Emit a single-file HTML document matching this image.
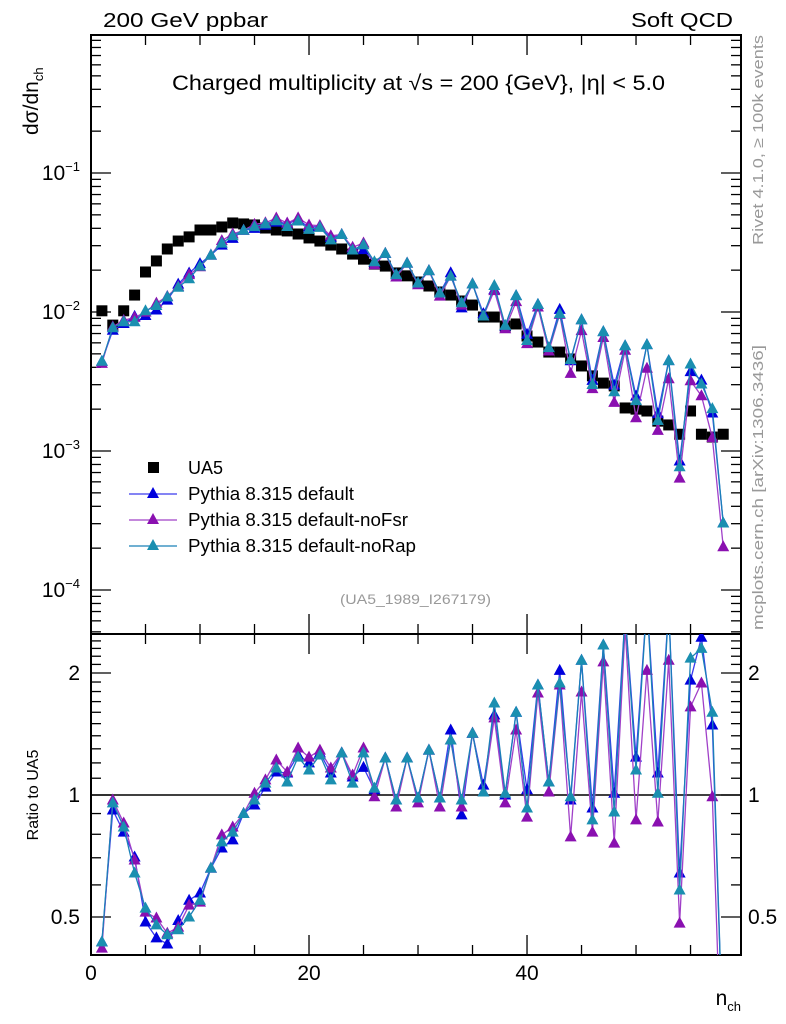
<!DOCTYPE html>
<html><head><meta charset="utf-8">
<style>
html,body{margin:0;padding:0;background:#fff;overflow:hidden;width:786px;height:1024px;}
svg{display:block;font-family:"Liberation Sans",sans-serif;}
</style></head>
<body>
<svg id="chart" width="786" height="1024" viewBox="0 0 786 1024" xmlns="http://www.w3.org/2000/svg">
<defs>
<clipPath id="clipMain"><rect x="91" y="35" width="650" height="599"/></clipPath>
<clipPath id="clipRatio"><rect x="91" y="634" width="650" height="321"/></clipPath>
</defs>
<g id="axes"></g>
<g id="series"></g>
<text x="103" y="27" font-size="20" textLength="165" lengthAdjust="spacingAndGlyphs">200 GeV ppbar</text>
<text x="631" y="27" font-size="20" textLength="102" lengthAdjust="spacingAndGlyphs">Soft QCD</text>
<text x="172" y="90" font-size="21" textLength="493" lengthAdjust="spacingAndGlyphs">Charged multiplicity at √s = 200 {GeV}, |η| &lt; 5.0</text>
<text transform="translate(38,135) rotate(-90)" font-size="21">dσ/dn<tspan font-size="13" dy="5">ch</tspan></text>
<text transform="translate(38,795) rotate(-90)" font-size="16" text-anchor="middle">Ratio to UA5</text>
<text x="741" y="1005" font-size="21" text-anchor="end">n<tspan font-size="13" dy="6">ch</tspan></text>
<text transform="translate(763,245) rotate(-90)" font-size="15" fill="#999" textLength="210" lengthAdjust="spacingAndGlyphs">Rivet 4.1.0, ≥ 100k events</text>
<text transform="translate(763,630) rotate(-90)" font-size="15" fill="#999" textLength="285" lengthAdjust="spacingAndGlyphs">mcplots.cern.ch [arXiv:1306.3436]</text>
<text x="340" y="604" font-size="14" fill="#999" textLength="151" lengthAdjust="spacingAndGlyphs">(UA5_1989_I267179)</text>
<g id="legend">
<rect x="148" y="462" width="11" height="11" fill="#000"/>
<text x="188" y="474" font-size="18">UA5</text>
<line x1="129" y1="494" x2="177" y2="494" stroke="#3a3aee" stroke-width="1.3"/>
<polygon points="153,487 147,498 159,498" fill="#0000dd"/>
<text x="188" y="500" font-size="18" textLength="166" lengthAdjust="spacingAndGlyphs">Pythia 8.315 default</text>
<line x1="129" y1="520" x2="177" y2="520" stroke="#a040c8" stroke-width="1.3"/>
<polygon points="153,513 147,524 159,524" fill="#8a10b0"/>
<text x="188" y="526" font-size="18" textLength="220" lengthAdjust="spacingAndGlyphs">Pythia 8.315 default-noFsr</text>
<line x1="129" y1="546" x2="177" y2="546" stroke="#1a80b8" stroke-width="1.3"/>
<polygon points="153,539 147,550 159,550" fill="#1a8fb0"/>
<text x="188" y="552" font-size="18" textLength="228" lengthAdjust="spacingAndGlyphs">Pythia 8.315 default-noRap</text>
</g>
</svg>
<script>
const nch = [1,2,3,4,5,6,7,8,9,10,11,12,13,14,15,16,17,18,19,20,21,22,23,24,25,26,27,28,29,30,31,32,33,34,35,36,37,38,39,40,41,42,43,44,45,46,47,48,49,50,51,52,53,54,55,56,57,58];
const ua5 = [0.0102,0.00805,0.0102,0.01324,0.0194,0.0233,0.0284,0.0324,0.0347,0.0389,0.0389,0.0409,0.0437,0.043,0.0423,0.0402,0.0389,0.0383,0.0364,0.0341,0.0324,0.0303,0.0284,0.0261,0.024,0.0221,0.0214,0.0191,0.0182,0.01644,0.01538,0.01393,0.01324,0.012,0.01122,0.0092,0.0092,0.00793,0.0082,0.00672,0.00608,0.00515,0.00515,0.00459,0.00409,0.00347,0.00308,0.00294,0.00204,0.002,0.00194,0.00164,0.00154,0.00132,0.00194,0.00132,0.00126,0.00132];
const ratioDefault = [0.434,0.918,0.81,0.703,0.486,0.444,0.429,0.49,0.55,0.573,0.66,0.74,0.775,0.9,0.945,1.046,1.14,1.133,1.255,1.2,1.27,1.133,1.27,1.108,1.17,1.03,1.234,0.972,1.234,0.983,1.29,0.983,1.447,0.893,1.42,1.058,1.575,1.0,1.6,1.03,1.868,1.077,2.03,0.972,2.15,0.929,2.345,1.01,2.8,1.24,3.0,1.133,2.9,0.642,1.92,2.45,1.488,0.23];
const ratioNoFsr = [0.419,0.972,0.853,0.691,0.514,0.497,0.456,0.472,0.535,0.544,0.66,0.797,0.834,0.9,1.01,1.09,1.22,1.14,1.306,1.24,1.29,1.166,1.27,1.12,1.306,0.99,1.234,0.934,1.234,0.956,1.29,0.934,1.367,0.934,1.42,1.017,1.55,0.956,1.447,0.882,1.785,1.017,1.868,0.788,1.795,0.81,2.13,0.761,2.6,0.868,2.03,0.858,2.15,0.483,1.65,1.89,0.99,0.155];
const ratioNoRap = [0.434,0.956,0.834,0.642,0.526,0.478,0.452,0.465,0.5,0.55,0.66,0.766,0.81,0.9,0.972,1.07,1.166,1.077,1.24,1.153,1.255,1.09,1.27,1.07,1.27,1.04,1.234,0.972,1.234,0.983,1.29,0.983,1.367,0.972,1.42,1.017,1.687,1.01,1.6,0.929,1.868,1.077,1.89,0.99,2.15,0.868,2.345,0.908,2.8,1.153,3.0,1.01,2.9,0.583,2.177,2.3,1.6,0.23];
const xTickLabels = ["0","20","40"];
const xTickValues = [0,20,40];
const yDecadeExps = [-1,-2,-3,-4];
const ratioTickValues = [0.5,1,2];
const ratioTickLabels = ["0.5","1","2"];

const NS="http://www.w3.org/2000/svg";
const X0=91, X1=741, XMAX=59.63;
const xs = n => X0 + (X1-X0)*n/XMAX;
const ys = v => 173 - 139*(Math.log10(v)+1);
const yr = r => 795 - 122*Math.log2(r);
const axes=document.getElementById('axes');
const series=document.getElementById('series');
function mk(tag,attrs,parent){const e=document.createElementNS(NS,tag);for(const k in attrs)e.setAttribute(k,attrs[k]);parent.appendChild(e);return e;}

let f1=mk('rect',{x:91,y:35,width:650,height:599,fill:'none',stroke:'#000','stroke-width':2},axes);


let f2=mk('rect',{x:91,y:634,width:650,height:321,fill:'none',stroke:'#000','stroke-width':2},axes);


for(let v=0; v<=XMAX; v+=5){
  const x=xs(v); const major=(v%20===0); const L=major?20:10;
  mk('line',{x1:x,y1:35,x2:x,y2:35+L,stroke:'#000','stroke-width':1.3},axes);
  mk('line',{x1:x,y1:634,x2:x,y2:634-L,stroke:'#000','stroke-width':1.3},axes);
  mk('line',{x1:x,y1:634,x2:x,y2:634+L,stroke:'#000','stroke-width':1.3},axes);
  mk('line',{x1:x,y1:955,x2:x,y2:955-L,stroke:'#000','stroke-width':1.3},axes);
}
xTickValues.forEach((v,i)=>{
  const t=mk('text',{x:xs(v),y:980,'font-size':21,'text-anchor':'middle'},axes);
  t.textContent=xTickLabels[i];
  
  
});
for(let e=-5;e<=0;e++){
  for(let m=1;m<10;m++){
    const v=m*Math.pow(10,e); const y=ys(v);
    if(y<35||y>634) continue;
    const L=(m===1)?20:10;
    mk('line',{x1:91,y1:y,x2:91+L,y2:y,stroke:'#000','stroke-width':1.3},axes);
    mk('line',{x1:741,y1:y,x2:741-L,y2:y,stroke:'#000','stroke-width':1.3},axes);
  }
}
yDecadeExps.forEach(e=>{
  const t=mk('text',{x:80,y:ys(Math.pow(10,e))+7,'font-size':21,'text-anchor':'end'},axes);
  t.innerHTML='10<tspan font-size="13" dy="-9">−'+(-e)+'</tspan>';
  
  
});
for(let r=0.4;r<=2.55;r+=0.1){
  const y=yr(r); if(y<634||y>955) continue;
  const major=[0.5,1,2].some(v=>Math.abs(v-r)<1e-6); const L=major?20:10;
  mk('line',{x1:91,y1:y,x2:91+L,y2:y,stroke:'#000','stroke-width':1.3},axes);
  mk('line',{x1:741,y1:y,x2:741-L,y2:y,stroke:'#000','stroke-width':1.3},axes);
}
ratioTickValues.forEach((v,i)=>{
  const t=mk('text',{x:80,y:yr(v)+7,'font-size':21,'text-anchor':'end'},axes);
  t.textContent=ratioTickLabels[i];
  
  
  const t2=mk('text',{x:748,y:yr(v)+7,'font-size':21},axes);
  t2.textContent=ratioTickLabels[i];
  
  
});
let ref=mk('line',{x1:91,y1:yr(1),x2:741,y2:yr(1),stroke:'#000','stroke-width':1.5},axes);



const gMain=mk('g',{'clip-path':'url(#clipMain)'},series);
const gRatio=mk('g',{'clip-path':'url(#clipRatio)'},series);
nch.forEach((n,i)=>{
  const r=mk('rect',{x:xs(n)-5.5,y:ys(ua5[i])-5.5,width:11,height:11,fill:'#000'},gMain);
  
  
});
const defs=[
  {name:'default',ratio:ratioDefault,line:'#3a3aee',fill:'#0000dd'},
  {name:'nofsr',ratio:ratioNoFsr,line:'#a040c8',fill:'#8a10b0'},
  {name:'norap',ratio:ratioNoRap,line:'#1a80b8',fill:'#1a8fb0'}
];
defs.forEach(s=>{
  const mainPts=nch.map((n,i)=>[xs(n),ys(ua5[i]*s.ratio[i])]);
  const ratPts=nch.map((n,i)=>[xs(n),yr(s.ratio[i])]);
  const p1=mk('polyline',{points:mainPts.map(p=>p.join(',')).join(' '),fill:'none',stroke:s.line,'stroke-width':1.3},gMain);
  
  
  const p2=mk('polyline',{points:ratPts.map(p=>p.join(',')).join(' '),fill:'none',stroke:s.line,'stroke-width':1.3},gRatio);
  
  
  [[mainPts,gMain,'point-'],[ratPts,gRatio,'ratio-point-']].forEach(([pts,g,pre])=>{
    pts.forEach(([x,y])=>{
      const t=mk('polygon',{points:`${x},${y-6.5} ${x-6},${y+4.5} ${x+6},${y+4.5}`,fill:s.fill},g);
      
      
    });
  });
});
</script>
</body></html>
